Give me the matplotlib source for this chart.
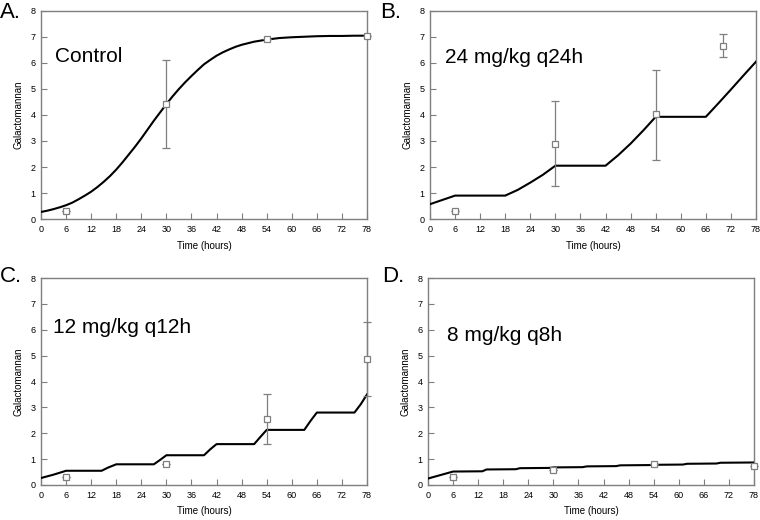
import matplotlib
matplotlib.use("Agg")
import matplotlib.pyplot as plt

plt.rcParams['font.family'] = ['Liberation Sans', 'DejaVu Sans']

# Model curves (time in hours, galactomannan)
a_t = [0, 1.5, 3, 4.5, 6, 7.5, 9, 10.5, 12, 13.5, 15, 16.5, 18, 19.5, 21, 22.5, 24, 25.5, 27, 28.5,
       30, 31.5, 33, 34.5, 36, 37.5, 39, 40.5, 42, 43.5, 45, 46.5, 48, 51, 54, 57, 60, 63, 66, 69, 72, 75, 78]
a_y = [0.27, 0.32, 0.38, 0.45, 0.53, 0.63, 0.76, 0.9, 1.05, 1.23, 1.43, 1.65, 1.9, 2.18, 2.48, 2.78, 3.1, 3.44,
       3.78, 4.1, 4.42, 4.72, 5.0, 5.26, 5.5, 5.73, 5.95, 6.12, 6.28, 6.41, 6.52, 6.62, 6.7, 6.82, 6.9, 6.96,
       6.99, 7.01, 7.03, 7.04, 7.04, 7.05, 7.05]

b_t = [0, 6, 18, 21, 24, 27, 30, 42, 45, 48, 51, 54, 66, 69, 72, 75, 78]
b_y = [0.57, 0.9, 0.9, 1.12, 1.4, 1.7, 2.05, 2.05, 2.45, 2.9, 3.4, 3.93, 3.93, 4.45, 4.98, 5.52, 6.05]

c_t = [0, 3, 6, 14.5, 16, 18, 27, 28.5, 30, 39, 40.5, 42, 51, 52.5, 54, 63, 64.5, 66, 75, 76.5, 78]
c_y = [0.27, 0.4, 0.55, 0.55, 0.67, 0.8, 0.8, 0.97, 1.15, 1.15, 1.38, 1.58, 1.58, 1.86, 2.13, 2.13, 2.48, 2.8, 2.8, 3.12, 3.5]

d_t = [0, 6, 13, 14, 21, 22, 29, 30, 37, 38, 45, 46, 53, 54, 61, 62, 69, 70, 78]
d_y = [0.25, 0.52, 0.53, 0.6, 0.61, 0.65, 0.66, 0.68, 0.69, 0.72, 0.73, 0.76, 0.77, 0.78, 0.79, 0.82, 0.83, 0.86, 0.87]

# Observed data (mean, lower, upper)
a_obs_t = [6, 30, 54, 78]
a_obs_y = [0.3, 4.43, 6.93, 7.05]
a_obs_lo = [0.3, 2.72, 6.93, 7.05]
a_obs_hi = [0.3, 6.13, 6.93, 7.05]

b_obs_t = [6, 30, 54, 70]
b_obs_y = [0.3, 2.9, 4.02, 6.67]
b_obs_lo = [0.3, 1.27, 2.27, 6.22]
b_obs_hi = [0.3, 4.53, 5.72, 7.1]

c_obs_t = [6, 30, 54, 78]
c_obs_y = [0.3, 0.82, 2.55, 4.87]
c_obs_lo = [0.3, 0.82, 1.58, 3.45]
c_obs_hi = [0.3, 0.82, 3.53, 6.3]

d_obs_t = [6, 30, 54, 78]
d_obs_y = [0.3, 0.57, 0.8, 0.73]
d_obs_lo = [0.3, 0.57, 0.8, 0.73]
d_obs_hi = [0.3, 0.57, 0.8, 0.73]

panel_letters = ["A.", "B.", "C.", "D."]
panel_titles = ["Control", "24 mg/kg q24h", "12 mg/kg q12h", "8 mg/kg q8h"]
title_pos = [(3.3, 6.05), (3.6, 6.0), (2.9, 5.87), (4.5, 5.55)]
x_ticks = list(range(0, 79, 6))
y_ticks = list(range(0, 9))

W, H = 760, 520
fig = plt.figure(figsize=(7.6, 5.2), dpi=100)

# axes boxes in pixel coords (left, top, right, bottom)
boxes = [(41, 11, 367, 219), (430, 11, 756, 219), (41, 278, 367, 485), (428, 278, 754, 485)]
letter_pos = [(0, 2), (380, 2), (0, 266), (382, 266)]

lines = [(a_t, a_y), (b_t, b_y), (c_t, c_y), (d_t, d_y)]
obs = [(a_obs_t, a_obs_y, a_obs_lo, a_obs_hi),
       (b_obs_t, b_obs_y, b_obs_lo, b_obs_hi),
       (c_obs_t, c_obs_y, c_obs_lo, c_obs_hi),
       (d_obs_t, d_obs_y, d_obs_lo, d_obs_hi)]

gray = '#7f7f7f'
for i in range(4):
    l, t, r, b = boxes[i]
    ax = fig.add_axes([l / W, 1 - b / H, (r - l) / W, (b - t) / H])
    lt, ly = lines[i]
    ax.plot(lt, ly, color='black', lw=1.5, zorder=3)
    ot, oy, olo, ohi = obs[i]
    yerr = [[y - lo for y, lo in zip(oy, olo)], [hi - y for y, hi in zip(oy, ohi)]]
    ax.errorbar(ot, oy, yerr=yerr, fmt='s', mfc='white', mec=gray, ms=5, mew=0.9,
                ecolor=gray, elinewidth=0.9, capsize=3, capthick=0.9, zorder=4, clip_on=False)
    ax.set_xlim(0, 78)
    ax.set_ylim(0, 8)
    ax.set_xticks(x_ticks)
    ax.set_yticks(y_ticks)
    ax.tick_params(direction='in', length=4, width=0.8, color=gray, labelsize=6.5, pad=4)
    for s in ax.spines.values():
        s.set_color(gray)
        s.set_linewidth(1.0)
    ax.set_xlabel("Time (hours)", fontsize=7, labelpad=5)
    ax.set_ylabel("Galactomannan", fontsize=7, labelpad=5)
    tx, ty = title_pos[i]
    ax.text(tx, ty, panel_titles[i], fontsize=15, ha='left', va='baseline')
    lx, ly2 = letter_pos[i]
    fig.text(lx / W, 1 - ly2 / H, panel_letters[i], fontsize=16, ha='left', va='top')

fig.savefig("out.png", dpi=100)
